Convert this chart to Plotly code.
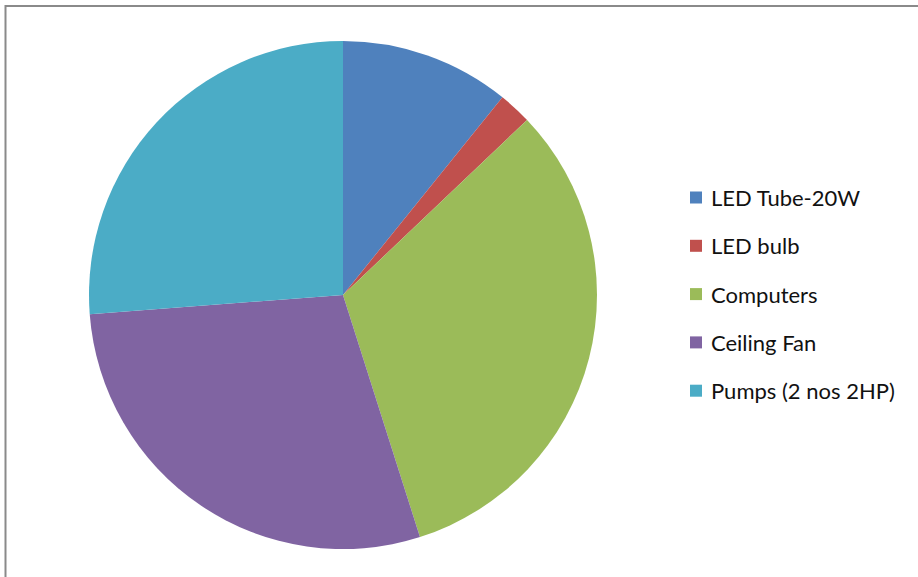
import plotly.graph_objects as go

labels = ["LED Tube-20W", "LED bulb", "Computers", "Ceiling Fan", "Pumps (2 nos 2HP)"]
values = [10.8, 2.1, 32.2, 28.7, 26.2]
colors = ["#4F81BD", "#C0504D", "#9BBB59", "#8064A2", "#4BACC6"]

W, H = 918, 577
cx, cy, r = 343, 295, 254

fig = go.Figure(go.Pie(
    labels=labels, values=values, sort=False, direction="clockwise", rotation=0,
    marker=dict(colors=colors, line=dict(width=0)),
    textinfo="none", hoverinfo="label+value", showlegend=False,
    domain=dict(x=[(cx - r) / W, (cx + r) / W], y=[(H - cy - r) / H, (H - cy + r) / H]),
))

shapes = [dict(type="rect", xref="paper", yref="paper", x0=5.5 / W, x1=1.02, y0=-0.02, y1=1 - 6 / H,
               line=dict(color="#8a8a8a", width=2), fillcolor="rgba(0,0,0,0)", layer="below")]
annotations = []
leg_x, leg_y0, leg_dy, sq = 690, 197.5, 48.3, 12
for i, (lab, col) in enumerate(zip(labels, colors)):
    yc = leg_y0 + i * leg_dy
    shapes.append(dict(type="rect", xref="paper", yref="paper",
                       x0=leg_x / W, x1=(leg_x + sq) / W,
                       y0=1 - (yc + sq / 2) / H, y1=1 - (yc - sq / 2) / H,
                       line=dict(width=0), fillcolor=col))
    annotations.append(dict(xref="paper", yref="paper", x=(leg_x + 19) / W, y=1 - yc / H,
                            xanchor="left", yanchor="middle", text=lab, showarrow=False,
                            font=dict(family="Lato, Open Sans, sans-serif", size=22, color="#111111")))

fig.update_layout(width=W, height=H, margin=dict(l=0, r=0, t=0, b=0),
                  paper_bgcolor="white", plot_bgcolor="white",
                  shapes=shapes, annotations=annotations)
fig.write_html("out.html")
